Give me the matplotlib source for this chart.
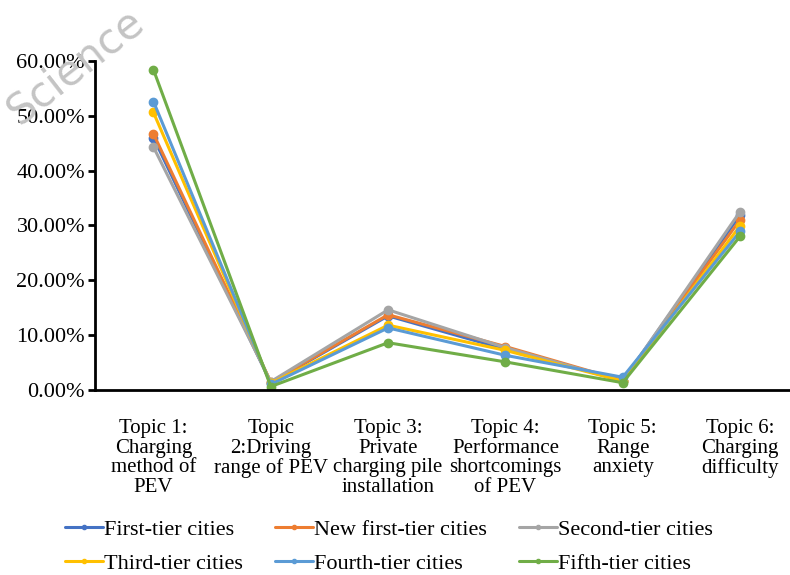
import matplotlib
matplotlib.use("Agg")
import matplotlib.pyplot as plt
from matplotlib.ticker import FuncFormatter

plt.rcParams['font.family'] = ['Liberation Serif', 'DejaVu Serif']

topics = [
    "Topic 1:\nCharging\nmethod of\nPEV",
    "Topic\n2:Driving\nrange of PEV",
    "Topic 3:\nPrivate\ncharging pile\ninstallation",
    "Topic 4:\nPerformance\nshortcomings\nof PEV",
    "Topic 5:\nRange\nanxiety",
    "Topic 6:\nCharging\ndifficulty",
]

series_names = [
    "First-tier cities", "New first-tier cities", "Second-tier cities",
    "Third-tier cities", "Fourth-tier cities", "Fifth-tier cities",
]
first_tier = [0.460, 0.013, 0.135, 0.074, 0.017, 0.319]
new_first_tier = [0.467, 0.014, 0.137, 0.079, 0.017, 0.310]
second_tier = [0.443, 0.015, 0.146, 0.077, 0.016, 0.325]
third_tier = [0.506, 0.012, 0.118, 0.072, 0.016, 0.299]
fourth_tier = [0.526, 0.010, 0.113, 0.063, 0.023, 0.289]
fifth_tier = [0.584, 0.006, 0.086, 0.051, 0.013, 0.280]
values = [first_tier, new_first_tier, second_tier, third_tier, fourth_tier, fifth_tier]
colors = ["#4472C4", "#ED7D31", "#A5A5A5", "#FFC000", "#5B9BD5", "#70AD47"]

fig = plt.figure(figsize=(7.9, 5.75), dpi=100)
ax = fig.add_axes([0.12, 0.322, 0.891, 0.572])

x = list(range(len(topics)))
handles = []
for name, vals, c in zip(series_names, values, colors):
    h, = ax.plot(x, vals, color=c, lw=2.2, marker='o', ms=6, label=name,
                 solid_capstyle='round')
    handles.append(h)

ax.set_xlim(-0.5, len(topics) - 0.5)
ax.set_ylim(0, 0.60)
ax.set_yticks([0, 0.1, 0.2, 0.3, 0.4, 0.5, 0.6])
ax.yaxis.set_major_formatter(FuncFormatter(lambda v, p: f"{v*100:.2f}%"))
ax.set_xticks(x)
ax.set_xticklabels(topics, fontsize=15, linespacing=1.05)
ax.tick_params(axis='x', length=0, pad=21)
ax.tick_params(axis='y', labelsize=16, length=5, width=2, direction='out', pad=2)
for s in ['top', 'right']:
    ax.spines[s].set_visible(False)
ax.spines['left'].set_linewidth(2)
ax.spines['bottom'].set_linewidth(2)

# legend filled row by row: three entries per row
order = [0, 3, 1, 4, 2, 5]
fig.legend([handles[i] for i in order], [series_names[i] for i in order],
           loc='upper left', bbox_to_anchor=(0.068, 1 - 508 / 575), ncol=3,
           bbox_transform=fig.transFigure, frameon=False, fontsize=16,
           handlelength=1.7, handletextpad=0.05, columnspacing=1.45,
           labelspacing=0.62, markerscale=0.5, borderpad=0)

fig.text(0.095, 0.885, "Science", fontsize=30, color='#c4c4c4', rotation=38,
         ha='center', va='center', family='DejaVu Sans', zorder=0)

fig.savefig("out.png", dpi=100)
